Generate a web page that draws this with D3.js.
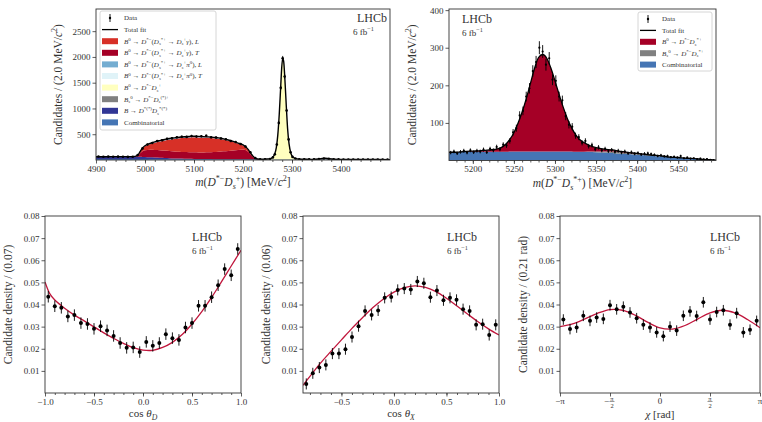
<!DOCTYPE html>
<html>
<head>
<meta charset="utf-8">
<script src="https://cdn.jsdelivr.net/npm/d3@7"></script>
<style>
body { margin: 0; background: #fff; }
text { font-family: "Liberation Serif", "DejaVu Serif", serif; fill: #333; }
</style>
</head>
<body>
<svg id="chart" width="762" height="422"></svg>
<script>
// ---------- top left: m(D*- Ds+) fit components, counts / 2 MeV ----------
var massA = [4900,4920,4940,4960,4975,4985,4990,4995,
  5000,5010,5020,5030,5040,5050,5060,5070,5080,5090,5100,5110,5120,5130,5140,5150,5160,5170,5180,5190,5200,
  5205,5210,5215,5220,5225,5230,5240,5250,
  5256,5260,5264,5268,5271,5274,5277,5279,5281,5283,5285,5288,5291,5294,5298,5302,5306,5312,5320,
  5340,5355,5362,5368,5374,5385,5400,5450,5500];
var combA = [18,18,18,17,17,17,17,17,
  17,16,16,16,16,16,15,15,15,15,15,14,14,14,14,14,13,13,13,13,13,
  13,13,13,13,13,12,12,12,
  12,12,12,12,12,12,12,12,12,12,12,12,12,12,12,12,12,12,11,
  11,11,11,11,11,10,10,9,8];
var navyA = [45,46,47,48,48,46,44,42,
  40,36,32,28,24,20,16,13,10,8,6,5,4,3,2,2,1,1,1,0,0,
  0,0,0,0,0,0,0,0,
  0,0,0,0,0,0,0,0,0,0,0,0,0,0,0,0,0,0,0,
  0,0,0,0,0,0,0,0,0];
var greyA = [0,0,0,0,0,0,0,0,
  0,0,0,0,0,0,0,0,0,0,0,0,0,0,0,0,0,0,0,0,0,
  0,0,0,0,0,0,0,0,
  0,0,0,0,0,0,0,0,0,0,0,0,0,0,0,0,0,0,0,
  2,8,18,22,14,4,1,0,0];
var yellowA = [0,0,0,0,0,0,0,0,
  0,0,0,0,0,0,0,0,0,0,0,0,0,0,0,0,0,0,0,0,0,
  0,0,0,0,0,0,2,6,
  15,35,90,230,470,880,1420,1780,1960,1900,1640,1100,600,300,110,45,20,8,3,
  0,0,0,0,0,0,0,0,0];
var transA = [0,0,0,0,0,20,70,110,
  130,145,148,146,143,140,136,133,130,128,127,127,129,133,139,146,154,162,172,182,190,
  180,150,105,55,20,6,1,0,
  0,0,0,0,0,0,0,0,0,0,0,0,0,0,0,0,0,0,0,
  0,0,0,0,0,0,0,0,0];
var longA = [0,0,0,0,0,8,30,60,
  80,110,140,168,195,220,242,260,275,285,292,292,288,280,268,252,228,198,162,122,80,
  60,40,22,10,4,1,0,0,
  0,0,0,0,0,0,0,0,0,0,0,0,0,0,0,0,0,0,0,
  0,0,0,0,0,0,0,0,0];
var piLA = [0,0,0,0,0,0,2,4,
  6,8,10,12,13,14,15,15,15,15,15,14,13,12,11,10,9,8,7,6,5,
  4,3,2,1,0,0,0,0,
  0,0,0,0,0,0,0,0,0,0,0,0,0,0,0,0,0,0,0,
  0,0,0,0,0,0,0,0,0];
var piTA = [0,0,0,0,0,0,1,2,
  4,5,6,6,6,6,6,6,6,6,6,6,6,6,6,6,6,6,6,6,6,
  5,4,2,1,0,0,0,0,
  0,0,0,0,0,0,0,0,0,0,0,0,0,0,0,0,0,0,0,
  0,0,0,0,0,0,0,0,0];
var dataMassA = [4905,4915,4925,4935,4945,4955,4965,4975,4985,4995,
  5005,5015,5025,5035,5045,5055,5065,5075,5085,5095,
  5105,5115,5125,5135,5145,5155,5165,5175,5185,5195,
  5205,5215,5225,5235,5245,5255,5261,5265,5269,5273,
  5277,5281,5285,5289,5293,5297,5301,5307,5315,5325,
  5335,5345,5355,5365,5375,5385,5395,5405,5415,5425,
  5435,5445,5455,5465,5475,5485,5495];
var dataA = [68,64,66,62,65,63,60,62,95,225,
  300,330,368,382,410,420,440,452,448,465,
  455,462,472,440,438,418,402,370,348,310,
  262,150,40,16,16,20,50,110,300,720,
  1400,1975,1620,960,400,150,60,28,15,14,
  12,14,20,30,24,15,12,11,10,11,
  10,9,9,10,8,9,8];

// ---------- top right: m(D*- Ds*+) ----------
var massB = [5171,5180,5190,5200,5210,5220,5230,
  5235,5240,5245,5250,5255,5260,5265,5270,5275,5280,5285,5290,5295,5300,5305,5310,5315,5320,5325,5330,
  5340,5350,5360,5370,5380,5390,5400,5410,5420,5430,5440,5450,5460,5470,5480,5490,
  5496];
var combB = [22,22,23,23,23,23,23,
  23,23,24,24,24,24,24,24,24,24,24,24,24,24,24,24,24,24,23,23,
  23,22,21,20,18,17,15,14,12,11,9,8,6,5,3,2,
  1];
var greyB = [0,0,0,0,0,0,0,
  0,0,0,0,0,0,0,0,0,0,0,0,0,0,0,0,0,0,0,0,
  1,2,3,4,4,3,3,2,2,1,0,0,0,0,0,0,
  0];
var sigB = [0,0,1,2,3,5,8,
  12,20,32,50,75,105,140,180,220,250,258,248,222,188,152,118,88,64,46,33,
  18,10,6,4,2,1,1,0,0,0,0,0,0,0,0,0,
  0];
var dataStartB = 5173, dataStepB = 4;
var dataB = [21,24,19,23,26,21,27,22,26,24,
  29,22,31,27,36,30,42,40,52,75,
  86,120,132,170,192,238,262,300,290,255,
  272,215,212,170,160,118,95,90,66,62,
  47,52,38,41,30,35,27,31,25,28,
  23,26,21,24,19,22,18,20,16,18,
  19,17,15,12,14,11,12,9,10,8,
  12,6,8,5,6,4,5,3,4,2,
  1];

// ---------- bottom: angular projections (30 bins each) ----------
var densD = [0.0435,0.0392,0.0385,0.0346,0.0352,0.0316,0.0312,0.0290,0.0302,0.0283,
  0.0258,0.0226,0.0204,0.0206,0.0185,0.0231,0.0213,0.0226,0.0266,0.0248,
  0.0240,0.0296,0.0316,0.0394,0.0394,0.0433,0.0487,0.0560,0.0532,0.0651];
var fitDx = [-1,-0.95,-0.9,-0.8,-0.7,-0.6,-0.5,-0.4,-0.3,-0.2,-0.1,0,0.1,0.2,0.3,0.4,0.5,0.6,0.7,0.8,0.9,1];
var fitDy = [0.0502,0.0448,0.0420,0.0383,0.0352,0.0326,0.0299,0.0272,0.0247,0.0224,0.0205,0.0194,
  0.0193,0.0206,0.0229,0.0264,0.0312,0.0368,0.0432,0.0502,0.0574,0.0645];

var densX = [0.0041,0.0089,0.0115,0.0127,0.0178,0.0178,0.0198,0.0253,0.0302,0.0371,
  0.0353,0.0373,0.0430,0.0434,0.0466,0.0472,0.0468,0.0504,0.0496,0.0433,
  0.0463,0.0419,0.0430,0.0421,0.0379,0.0371,0.0308,0.0311,0.0262,0.0308];
var fitXx = [-0.866,-0.8,-0.7,-0.6,-0.5,-0.4,-0.3,-0.2,-0.1,0,0.1,0.2,0.3,0.4,0.5,0.6,0.7,0.8,0.9,1];
var fitXy = [0.0035,0.0075,0.0135,0.0188,0.0240,0.0292,0.0340,0.0386,0.0425,0.0456,
  0.0476,0.0484,0.0477,0.0458,0.0428,0.0393,0.0357,0.0322,0.0290,0.0262];

var densChi = [0.0332,0.0289,0.0296,0.0349,0.0326,0.0341,0.0335,0.0397,0.0378,0.0390,
  0.0364,0.0338,0.0309,0.0296,0.0274,0.0257,0.0300,0.0282,0.0349,0.0369,
  0.0348,0.0410,0.0332,0.0366,0.0374,0.0309,0.0361,0.0274,0.0286,0.0326];
var fitChiX = [-3.142,-2.749,-2.356,-1.963,-1.571,-1.178,-0.785,-0.393,0,0.393,0.785,1.178,1.571,1.963,2.356,2.749,3.142];
var fitChiY = [0.0300,0.0312,0.0335,0.0360,0.0377,0.0374,0.0352,0.0320,0.0294,0.0289,0.0305,0.0334,0.0362,0.0374,0.0362,0.0332,0.0295];

// colours
var col = {
  L: "#d73027", T: "#a50026", piL: "#74add1", piT: "#e0f3f8",
  yellow: "#ffffbf", grey: "#808080", navy: "#313695", comb: "#4575b4",
  fit: "#c0163c"
};

var svg = d3.select("#chart");

// small markup: ^{..} sup, _{..} sub, %{..} italic
function rich(sel, str, fs){
  var re = /([\^_%])\{([^}]*)\}|([^\^_%]+)/g, m, shift = 0;
  while((m = re.exec(str)) !== null){
    var ts = sel.append("tspan"), target = 0, size = fs, txt = m[3], ital = false;
    if(m[1] === "^"){ target = -0.4 * fs; size = 0.7 * fs; txt = m[2]; }
    else if(m[1] === "_"){ target = 0.28 * fs; size = 0.7 * fs; txt = m[2]; ital = true; }
    else if(m[1] === "%"){ txt = m[2]; ital = true; }
    ts.attr("dy", target - shift).style("font-size", size + "px").text(txt);
    if(ital) ts.style("font-style", "italic");
    shift = target;
  }
}

var clipId = 0;
function panel(o){
  var p = {};
  p.x = d3.scaleLinear().domain(o.xd).range([o.x0, o.x1]);
  p.y = d3.scaleLinear().domain(o.yd).range([o.y1, o.y0]);
  p.g = svg.append("g");
  var id = "clip" + (clipId++);
  svg.append("clipPath").attr("id", id).append("rect")
    .attr("x", o.x0).attr("y", o.y0).attr("width", o.x1 - o.x0).attr("height", o.y1 - o.y0);
  p.plot = p.g.append("g").attr("clip-path", "url(#" + id + ")");

  // axes
  p.g.append("g").attr("transform", "translate(0," + o.y1 + ")")
    .call(d3.axisBottom(p.x).tickValues(o.xt).tickSize(3.5).tickPadding(2).tickFormat(o.xf));
  if(o.xm) p.g.append("g").attr("transform", "translate(0," + o.y1 + ")")
    .call(d3.axisBottom(p.x).tickValues(o.xm).tickSize(2).tickFormat(""));
  p.g.append("g").attr("transform", "translate(" + o.x0 + ",0)")
    .call(d3.axisLeft(p.y).tickValues(o.yt).tickSize(3.5).tickPadding(2).tickFormat(o.yf));
  p.g.selectAll(".domain").remove();
  p.g.selectAll(".tick line").attr("stroke", "#333").attr("stroke-width", 0.8);
  p.g.selectAll(".tick text").attr("font-family", null).attr("fill", "#333").style("font-size", "9px");

  // titles
  var xt = p.g.append("text").attr("x", (o.x0 + o.x1) / 2).attr("y", o.y1 + o.xlabOff)
    .attr("text-anchor", "middle");
  rich(xt, o.xlab, o.xlabSize || 11.5);
  var yt = p.g.append("text")
    .attr("transform", "translate(" + (o.x0 - o.ylabOff) + "," + ((o.y0 + o.y1) / 2) + ") rotate(-90)")
    .attr("text-anchor", "middle");
  rich(yt, o.ylab, 11.5);

  // LHCb tag
  p.g.append("text").attr("x", o.tag[0]).attr("y", o.tag[1])
    .attr("text-anchor", o.tagAnchor || "start").style("font-size", "12px").text("LHCb");
  var lt2 = p.g.append("text").attr("x", o.tag[0] + (o.tagAnchor === "end" ? -34 : 0))
    .attr("y", o.tag[1] + 12.5);
  rich(lt2, "6 fb^{−1}", 9);

  p.frame = function(){
    p.g.append("rect").attr("x", o.x0).attr("y", o.y0)
      .attr("width", o.x1 - o.x0).attr("height", o.y1 - o.y0)
      .attr("fill", "none").attr("stroke", "#333").attr("stroke-width", 0.9);
  };
  return p;
}

function drawData(p, xs, ys, r, errs){
  var g = p.plot.append("g");
  g.selectAll("line.err").data(ys).enter().append("line").attr("class", "err")
    .attr("x1", function(d, i){ return p.x(xs[i]); })
    .attr("x2", function(d, i){ return p.x(xs[i]); })
    .attr("y1", function(d){ return p.y(d - errs(d)); })
    .attr("y2", function(d){ return p.y(d + errs(d)); })
    .attr("stroke", "#000").attr("stroke-width", 0.9);
  g.selectAll("circle").data(ys).enter().append("circle")
    .attr("cx", function(d, i){ return p.x(xs[i]); })
    .attr("cy", function(d){ return p.y(d); })
    .attr("r", r).attr("fill", "#000");
}

function legend(entries, x, y, w, h, rowH){
  var g = svg.append("g");
  g.append("rect").attr("x", x).attr("y", y).attr("width", w).attr("height", h)
    .attr("rx", 2).attr("fill", "#fff").attr("fill-opacity", 0.85)
    .attr("stroke", "#ccc").attr("stroke-width", 0.8);
  entries.forEach(function(e, i){
    var cy = y + 7 + i * rowH;
    if(e.type === "data"){
      g.append("line").attr("x1", x + 10).attr("x2", x + 10).attr("y1", cy - 4).attr("y2", cy + 4)
        .attr("stroke", "#000").attr("stroke-width", 0.9);
      g.append("circle").attr("cx", x + 10).attr("cy", cy).attr("r", 1.2).attr("fill", "#000");
    } else if(e.type === "line"){
      g.append("line").attr("x1", x + 2).attr("x2", x + 18).attr("y1", cy).attr("y2", cy)
        .attr("stroke", "#000").attr("stroke-width", 1.3);
    } else {
      g.append("rect").attr("x", x + 2).attr("y", cy - 3).attr("width", 16).attr("height", 6)
        .attr("fill", e.color);
    }
    var t = g.append("text").attr("x", x + 24).attr("y", cy + 2.3).style("font-size", "7px");
    rich(t, e.label, 7);
  });
}

var intFmt = d3.format("d");

// ================= top left =================
var pA = panel({
  x0: 96, x1: 390, y0: 9, y1: 160, xd: [4900, 5500], yd: [0, 2930],
  xt: [4900, 5000, 5100, 5200, 5300, 5400], xm: d3.range(4920, 5500, 20), xf: intFmt,
  yt: [500, 1000, 1500, 2000, 2500], yf: intFmt,
  xlab: "%{m}(%{D}^{*−}%{D}_{s}^{+}) [MeV/%{c}^{2}]", xlabOff: 26,
  ylab: "Candidates / (2.0 MeV/%{c}^{2})", ylabOff: 34,
  tag: [387, 22], tagAnchor: "end"
});
var keysA = ["comb", "navy", "grey", "yellow", "T", "L", "piL", "piT"];
var tableA = massA.map(function(m, i){
  return { m: m, comb: combA[i], navy: navyA[i], grey: greyA[i], yellow: yellowA[i],
    T: transA[i], L: longA[i], piL: piLA[i], piT: piTA[i] };
});
var stackA = d3.stack().keys(keysA)(tableA);
var areaA = d3.area().curve(d3.curveMonotoneX)
  .x(function(d){ return pA.x(d.data.m); })
  .y0(function(d){ return pA.y(d[0]); })
  .y1(function(d){ return pA.y(d[1]); });
pA.plot.selectAll("path.layer").data(stackA).enter().append("path").attr("class", "layer")
  .attr("d", areaA).attr("fill", function(d){ return col[d.key]; });
pA.plot.append("path").datum(stackA[stackA.length - 1])
  .attr("d", d3.line().curve(d3.curveMonotoneX)
    .x(function(d){ return pA.x(d.data.m); })
    .y(function(d){ return pA.y(d[1]); }))
  .attr("fill", "none").attr("stroke", "#000").attr("stroke-width", 1.4);
drawData(pA, dataMassA, dataA, 1.3, function(v){ return Math.sqrt(v); });
pA.frame();

legend([
  { type: "data", label: "Data" },
  { type: "line", label: "Total fit" },
  { color: col.L, label: "%{B}^{0} → %{D}^{*−}(%{D}_{s}^{*+} → %{D}_{s}^{+}%{γ}), %{L}" },
  { color: col.T, label: "%{B}^{0} → %{D}^{*−}(%{D}_{s}^{*+} → %{D}_{s}^{+}%{γ}), %{T}" },
  { color: col.piL, label: "%{B}^{0} → %{D}^{*−}(%{D}_{s}^{*+} → %{D}_{s}^{+}%{π}^{0}), %{L}" },
  { color: col.piT, label: "%{B}^{0} → %{D}^{*−}(%{D}_{s}^{*+} → %{D}_{s}^{+}%{π}^{0}), %{T}" },
  { color: col.yellow, label: "%{B}^{0} → %{D}^{*−}%{D}_{s}^{+}" },
  { color: col.grey, label: "%{B}_{s}^{0} → %{D}^{*−}%{D}_{s}^{(*)+}" },
  { color: col.navy, label: "%{B} → %{D}^{*(*)}%{D}_{s}^{*(*)}" },
  { color: col.comb, label: "Combinatorial" }
], 100, 11, 116, 119, 11.6);

// ================= top right =================
var pB = panel({
  x0: 449, x1: 716, y0: 9, y1: 160.5, xd: [5171, 5496], yd: [0, 403],
  xt: [5200, 5250, 5300, 5350, 5400, 5450], xm: d3.range(5180, 5496, 10), xf: intFmt,
  yt: [100, 200, 300, 400], yf: intFmt,
  xlab: "%{m}(%{D}^{*−}%{D}_{s}^{*+}) [MeV/%{c}^{2}]", xlabOff: 26,
  ylab: "Candidates / (2.0 MeV/%{c}^{2})", ylabOff: 33,
  tag: [462, 23]
});
var keysB = ["comb", "grey", "sig"];
var tableB = massB.map(function(m, i){
  return { m: m, comb: combB[i], grey: greyB[i], sig: sigB[i] };
});
var stackB = d3.stack().keys(keysB)(tableB);
var colB = { comb: col.comb, grey: col.grey, sig: col.T };
var areaB = d3.area().curve(d3.curveMonotoneX)
  .x(function(d){ return pB.x(d.data.m); })
  .y0(function(d){ return pB.y(d[0]); })
  .y1(function(d){ return pB.y(d[1]); });
pB.plot.selectAll("path.layer").data(stackB).enter().append("path").attr("class", "layer")
  .attr("d", areaB).attr("fill", function(d){ return colB[d.key]; });
pB.plot.append("path").datum(stackB[stackB.length - 1])
  .attr("d", d3.line().curve(d3.curveMonotoneX)
    .x(function(d){ return pB.x(d.data.m); })
    .y(function(d){ return pB.y(d[1]); }))
  .attr("fill", "none").attr("stroke", "#000").attr("stroke-width", 1.3);
var dataMassB = dataB.map(function(d, i){ return dataStartB + i * dataStepB; });
drawData(pB, dataMassB, dataB, 1.1, function(v){ return Math.sqrt(v); });
pB.frame();

legend([
  { type: "data", label: "Data" },
  { type: "line", label: "Total fit" },
  { color: col.T, label: "%{B}^{0} → %{D}^{*−}%{D}_{s}^{*+}" },
  { color: col.grey, label: "%{B}_{s}^{0} → %{D}^{*−}%{D}_{s}^{*+}" },
  { color: col.comb, label: "Combinatorial" }
], 638, 12, 74, 59, 11.4);

// ================= bottom panels =================
var densFmt = d3.format(".2f");
var yTicksDens = [0.01, 0.02, 0.03, 0.04, 0.05, 0.06, 0.07, 0.08];

function binCenters(lo, hi, n){
  var w = (hi - lo) / n;
  return d3.range(n).map(function(i){ return lo + (i + 0.5) * w; });
}

function angPanel(o, dens, fx, fy, err){
  var p = panel(o);
  p.plot.append("path").datum(fx)
    .attr("d", d3.line().curve(d3.curveCatmullRom)
      .x(function(d){ return p.x(d); })
      .y(function(d, i){ return p.y(fy[i]); }))
    .attr("fill", "none").attr("stroke", col.fit).attr("stroke-width", 1.3);
  drawData(p, binCenters(o.xd[0], o.xd[1], dens.length), dens, 2, function(){ return err; });
  p.frame();
  return p;
}

angPanel({
  x0: 45, x1: 241, y0: 216, y1: 393, xd: [-1, 1], yd: [0, 0.08],
  xt: [-1, -0.5, 0, 0.5, 1], xm: d3.range(-0.9, 1, 0.1), xf: d3.format(".1f"),
  yt: yTicksDens, yf: densFmt,
  xlab: "cos %{θ}_{D}", xlabOff: 24, xlabSize: 11, ylab: "Candidate density / (0.07)", ylabOff: 33,
  tag: [192, 241]
}, densD, fitDx, fitDy, 0.0026);

angPanel({
  x0: 303, x1: 499, y0: 216, y1: 393, xd: [-0.866, 1], yd: [0, 0.08],
  xt: [-0.5, 0, 0.5, 1], xm: d3.range(-0.8, 1, 0.1), xf: d3.format(".1f"),
  yt: yTicksDens, yf: densFmt,
  xlab: "cos %{θ}_{X}", xlabOff: 24, xlabSize: 11, ylab: "Candidate density / (0.06)", ylabOff: 33,
  tag: [447, 241]
}, densX, fitXx, fitXy, 0.0025);

var chiTicks = [-Math.PI, -Math.PI / 2, 0, Math.PI / 2, Math.PI];
var chiLabels = ["−π", "−π/2", "0", "π/2", "π"];
var pC = angPanel({
  x0: 560, x1: 760, y0: 216, y1: 393, xd: [-Math.PI, Math.PI], yd: [0, 0.08],
  xt: chiTicks, xf: function(){ return ""; },
  yt: yTicksDens, yf: densFmt,
  xlab: "%{χ} [rad]", xlabOff: 25, xlabSize: 11, ylab: "Candidate density / (0.21 rad)", ylabOff: 33,
  tag: [710, 241]
}, densChi, fitChiX, fitChiY, 0.0024);

// fractional pi tick labels
chiTicks.forEach(function(v, i){
  var lab = chiLabels[i], cx = pC.x(v), base = 404;
  if(lab.indexOf("/") < 0){
    svg.append("text").attr("x", cx).attr("y", base).attr("text-anchor", "middle")
      .style("font-size", "9px").text(lab);
  } else {
    var neg = lab.charAt(0) === "−";
    var fx = cx + (neg ? 2 : 0);
    if(neg) svg.append("text").attr("x", fx - 3).attr("y", base - 0.5).attr("text-anchor", "end")
      .style("font-size", "9px").text("−");
    svg.append("text").attr("x", fx).attr("y", base - 3.5).attr("text-anchor", "middle")
      .style("font-size", "6.5px").text("π");
    svg.append("line").attr("x1", fx - 2.5).attr("x2", fx + 2.5).attr("y1", base - 2.5).attr("y2", base - 2.5)
      .attr("stroke", "#333").attr("stroke-width", 0.5);
    svg.append("text").attr("x", fx).attr("y", base + 3.5).attr("text-anchor", "middle")
      .style("font-size", "6.5px").text("2");
  }
});
</script>
</body>
</html>
